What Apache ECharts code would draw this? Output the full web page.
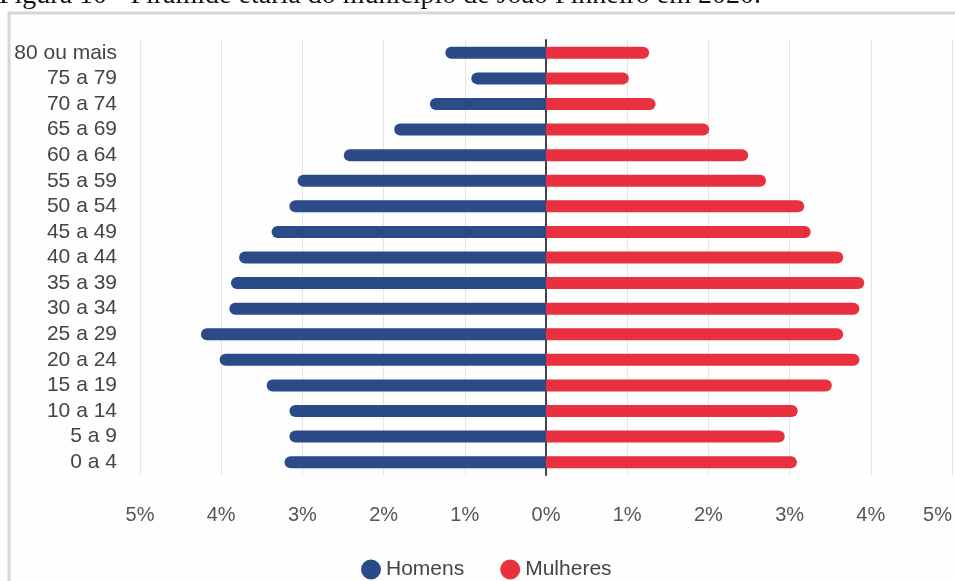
<!DOCTYPE html>
<html>
<head>
<meta charset="utf-8">
<script src="https://cdn.jsdelivr.net/npm/echarts@6/dist/echarts.min.js"></script>
<style>
html,body{margin:0;padding:0;background:#fff;}
#chart{width:955px;height:581px;}
</style>
</head>
<body>
<div id="chart"></div>
<script>
const caption = 'Figura 10 - Pirâmide etária do município de João Pinheiro em 2020.';
const categories = ['0 a 4','5 a 9','10 a 14','15 a 19','20 a 24','25 a 29','30 a 34','35 a 39','40 a 44','45 a 49','50 a 54','55 a 59','60 a 64','65 a 69','70 a 74','75 a 79','80 ou mais'];
const homens = [3.22, 3.16, 3.16, 3.44, 4.02, 4.25, 3.90, 3.88, 3.78, 3.38, 3.16, 3.06, 2.49, 1.87, 1.43, 0.92, 1.24];
const mulheres = [3.09, 2.94, 3.10, 3.52, 3.86, 3.66, 3.86, 3.92, 3.66, 3.26, 3.18, 2.71, 2.49, 2.01, 1.35, 1.02, 1.27];
const seriesNames = ['Homens', 'Mulheres'];
const axisMin = -5, axisMax = 5, axisStep = 1;

const chart = echarts.init(document.getElementById('chart'), null, {renderer: 'canvas'});
chart.setOption({
  animation: false,
  backgroundColor: '#ffffff',
  graphic: [
    {type: 'rect', shape: {x: 9, y: 13, width: 1000, height: 700}, style: {fill: '#fefefe', stroke: '#d6d6d6', lineWidth: 3}, z: -10, silent: true},
    {type: 'text', x: -1, y: 10, style: {text: caption, font: '28px "Liberation Serif"', fill: '#111', verticalAlign: 'bottom'}, z: 10}
  ],
  grid: {left: 140, right: -1, top: 40, bottom: 106, containLabel: false},
  legend: {
    data: seriesNames,
    left: 356, top: 554,
    icon: 'circle', itemWidth: 20, itemHeight: 20, itemGap: 36,
    textStyle: {fontSize: 21, color: '#444', fontFamily: 'Liberation Sans'}
  },
  xAxis: {
    type: 'value', min: axisMin, max: axisMax, interval: axisStep,
    axisLine: {show: false}, axisTick: {show: false},
    splitLine: {lineStyle: {color: '#e4e4e4', width: 1}},
    axisLabel: {
      margin: 30, fontSize: 20, color: '#555', fontFamily: 'Liberation Sans',
      formatter: v => Math.abs(v) + '%',
      alignMaxLabel: 'right'
    }
  },
  yAxis: {
    type: 'category', data: categories,
    axisLine: {show: true, lineStyle: {color: '#444', width: 2}},
    axisTick: {show: false},
    axisLabel: {interval: 0, margin: 23, fontSize: 21, color: '#444', fontFamily: 'Liberation Sans'}
  },
  series: [
    {
      name: seriesNames[0], type: 'bar', barWidth: 12, barGap: '-100%',
      itemStyle: {color: '#2b4a88', borderRadius: [6, 0, 0, 6]},
      data: homens.map(v => -v)
    },
    {
      name: seriesNames[1], type: 'bar', barWidth: 12, barGap: '-100%',
      itemStyle: {color: '#e8303e', borderRadius: [0, 6, 6, 0]},
      data: mulheres
    }
  ]
});
</script>
</body>
</html>
